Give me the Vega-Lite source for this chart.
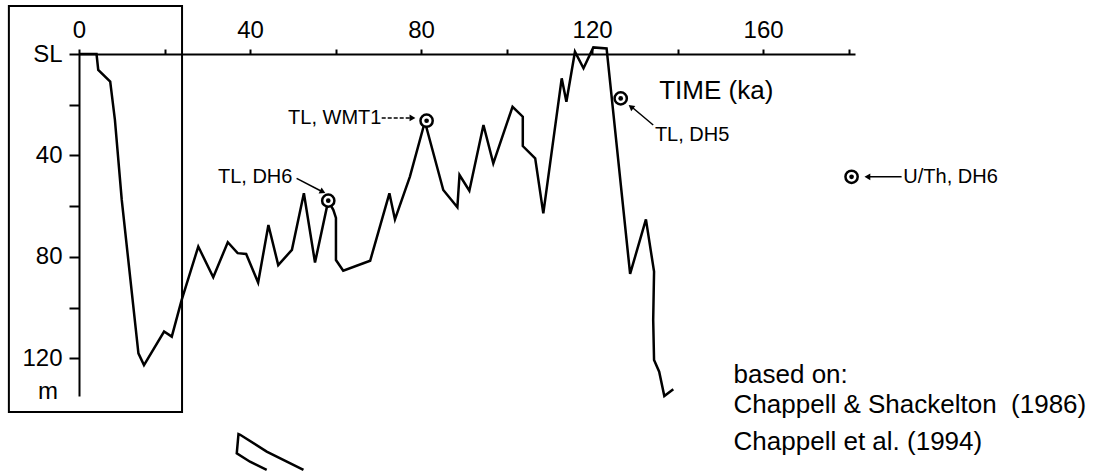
{
  "$schema": "https://vega.github.io/schema/vega-lite/v6.json",
  "width": 776,
  "height": 342,
  "autosize": {"type": "none"},
  "padding": {"left": 79, "top": 54, "right": 239, "bottom": 75},
  "background": "white",
  "view": {"stroke": null},
  "config": {"font": "Liberation Sans"},
  "layer": [
    {
      "data": {"values": [
        {"i": 1, "t": 0, "m": 0}, {"i": 2, "t": 4.1, "m": 0}, {"i": 3, "t": 4.5, "m": 6.3},
        {"i": 4, "t": 7.3, "m": 10.9}, {"i": 5, "t": 8.4, "m": 26}, {"i": 6, "t": 10, "m": 57.5},
        {"i": 7, "t": 13.9, "m": 118}, {"i": 8, "t": 15.2, "m": 122.6}, {"i": 9, "t": 19.9, "m": 109.4},
        {"i": 10, "t": 21.7, "m": 111.4}, {"i": 11, "t": 24, "m": 97}, {"i": 12, "t": 27.9, "m": 75.9},
        {"i": 13, "t": 31.4, "m": 88}, {"i": 14, "t": 34.8, "m": 74.2}, {"i": 15, "t": 37.1, "m": 78.5},
        {"i": 16, "t": 39.1, "m": 78.8}, {"i": 17, "t": 41.9, "m": 90.1}, {"i": 18, "t": 44.3, "m": 67.4},
        {"i": 19, "t": 46.6, "m": 83.2}, {"i": 20, "t": 49.8, "m": 77.2}, {"i": 21, "t": 52.6, "m": 54.9},
        {"i": 22, "t": 55.2, "m": 82.2}, {"i": 23, "t": 58.3, "m": 57.8}, {"i": 24, "t": 59.5, "m": 61.5},
        {"i": 25, "t": 60.1, "m": 64.6}, {"i": 26, "t": 60.1, "m": 81.2}, {"i": 27, "t": 61.8, "m": 85.4},
        {"i": 28, "t": 68.1, "m": 81.5}, {"i": 29, "t": 72.6, "m": 54.9}, {"i": 30, "t": 73.9, "m": 65.2},
        {"i": 31, "t": 77.4, "m": 48.3}, {"i": 32, "t": 80.9, "m": 26.7}, {"i": 33, "t": 85.2, "m": 53.6},
        {"i": 34, "t": 88.5, "m": 60.4}, {"i": 35, "t": 89, "m": 47.7}, {"i": 36, "t": 91.3, "m": 53.9},
        {"i": 37, "t": 94.6, "m": 28}, {"i": 38, "t": 96.9, "m": 43.1}, {"i": 39, "t": 101.4, "m": 20.8},
        {"i": 40, "t": 103.8, "m": 24.7}, {"i": 41, "t": 103.8, "m": 36.3}, {"i": 42, "t": 106.7, "m": 41.1},
        {"i": 43, "t": 108.6, "m": 62.8}, {"i": 44, "t": 112.9, "m": 9.6}, {"i": 45, "t": 114, "m": 18.8},
        {"i": 46, "t": 116, "m": -0.9}, {"i": 47, "t": 118, "m": 5.6}, {"i": 48, "t": 120.3, "m": -2.6},
        {"i": 49, "t": 123.4, "m": -2.2}, {"i": 50, "t": 128.9, "m": 86.7}, {"i": 51, "t": 132.6, "m": 65.2},
        {"i": 52, "t": 134.5, "m": 85.8}, {"i": 53, "t": 134.3, "m": 104.8}, {"i": 54, "t": 134.5, "m": 120.6},
        {"i": 55, "t": 135.7, "m": 125.2}, {"i": 56, "t": 136.9, "m": 134.8}, {"i": 57, "t": 139, "m": 132.1}
      ]},
      "mark": {"type": "line", "color": "black", "strokeWidth": 2.5, "clip": false},
      "encoding": {
        "x": {"field": "t", "type": "quantitative",
          "scale": {"domain": [0, 181.5], "nice": false, "zero": false},
          "axis": {"orient": "top", "title": null, "grid": false,
            "values": [0, 20, 40, 60, 80, 100, 120, 140, 160, 180],
            "labelExpr": "datum.value % 40 == 0 ? datum.label : ''",
            "tickSize": 5, "tickWidth": 2, "tickColor": "black",
            "domainWidth": 2, "domainColor": "black",
            "labelFont": "Liberation Sans", "labelFontSize": 24, "labelColor": "black",
            "labelPadding": 7, "labelFlush": false, "labelOverlap": false}},
        "y": {"field": "m", "type": "quantitative",
          "scale": {"domain": [0, 134.8], "nice": false, "zero": false, "reverse": true},
          "axis": {"orient": "left", "title": null, "grid": false,
            "values": [0, 20, 40, 60, 80, 100, 120],
            "labelExpr": "datum.value == 0 ? 'SL' : (datum.value % 40 == 0 ? datum.label : '')",
            "tickSize": 10, "tickWidth": 2, "tickColor": "black",
            "domainWidth": 2, "domainColor": "black",
            "labelFont": "Liberation Sans", "labelFontSize": 24, "labelColor": "black",
            "labelPadding": 7, "labelFlush": false, "labelOverlap": false}},
        "order": {"field": "i", "type": "quantitative"}
      }
    },
    {
      "data": {"values": [{"t": -16.4, "t2": 24.1, "m": -18.9, "m2": 141.1}]},
      "mark": {"type": "rect", "fill": null, "fillOpacity": 0, "stroke": "black", "strokeWidth": 2, "clip": false},
      "encoding": {
        "x": {"field": "t", "type": "quantitative"},
        "x2": {"field": "t2"},
        "y": {"field": "m", "type": "quantitative"},
        "y2": {"field": "m2"}
      }
    },
    {
      "data": {"values": [
        {"i": 1, "t": 43.9, "m": 163.9}, {"i": 2, "t": 40, "m": 160.7}, {"i": 3, "t": 36.9, "m": 157.4},
        {"i": 4, "t": 37.3, "m": 149.8}, {"i": 5, "t": 37.7, "m": 150.1}, {"i": 6, "t": 43.9, "m": 156.7},
        {"i": 7, "t": 52.5, "m": 163.9}
      ]},
      "mark": {"type": "line", "color": "black", "strokeWidth": 2.5, "clip": false},
      "encoding": {
        "x": {"field": "t", "type": "quantitative"},
        "y": {"field": "m", "type": "quantitative"},
        "order": {"field": "i", "type": "quantitative"}
      }
    },
    {
      "data": {"values": [
        {"t": 50.9, "m": 49, "t2": 56.6, "m2": 54.0},
        {"t": 134.3, "m": 28, "t2": 129.5, "m2": 21.2},
        {"t": 192.4, "m": 48.4, "t2": 185, "m2": 48.4}
      ]},
      "mark": {"type": "rule", "color": "black", "strokeWidth": 1.5, "clip": false},
      "encoding": {
        "x": {"field": "t", "type": "quantitative"},
        "x2": {"field": "t2"},
        "y": {"field": "m", "type": "quantitative"},
        "y2": {"field": "m2"}
      }
    },
    {
      "data": {"values": [{"t": 70.8, "m": 25.2, "t2": 77.5, "m2": 25.2}]},
      "mark": {"type": "rule", "color": "black", "strokeWidth": 1.5, "strokeDash": [4, 2], "clip": false},
      "encoding": {
        "x": {"field": "t", "type": "quantitative"},
        "x2": {"field": "t2"},
        "y": {"field": "m", "type": "quantitative"},
        "y2": {"field": "m2"}
      }
    },
    {
      "data": {"values": [
        {"t": 78.0, "m": 25.2, "dir": 0},
        {"t": 57.0, "m": 54.3, "dir": 27},
        {"t": 129.1, "m": 20.8, "dir": 218},
        {"t": 184.4, "m": 48.4, "dir": 180}
      ]},
      "mark": {"type": "point", "shape": "triangle-right", "filled": true, "color": "black", "size": 45, "opacity": 1, "clip": false},
      "encoding": {
        "x": {"field": "t", "type": "quantitative"},
        "y": {"field": "m", "type": "quantitative"},
        "angle": {"field": "dir", "type": "quantitative", "scale": null}
      }
    },
    {
      "data": {"values": [
        {"t": 58.3, "m": 57.8}, {"t": 81.3, "m": 26.3}, {"t": 126.7, "m": 17.5}, {"t": 180.7, "m": 48.4}
      ]},
      "mark": {"type": "point", "shape": "circle", "filled": false, "fill": "white", "fillOpacity": 1, "stroke": "black", "strokeWidth": 2.5, "size": 150, "opacity": 1, "clip": false},
      "encoding": {
        "x": {"field": "t", "type": "quantitative"},
        "y": {"field": "m", "type": "quantitative"}
      }
    },
    {
      "data": {"values": [
        {"t": 58.3, "m": 57.8}, {"t": 81.3, "m": 26.3}, {"t": 126.7, "m": 17.5}, {"t": 180.7, "m": 48.4}
      ]},
      "mark": {"type": "point", "shape": "circle", "filled": true, "color": "black", "size": 22, "opacity": 1, "clip": false},
      "encoding": {
        "x": {"field": "t", "type": "quantitative"},
        "y": {"field": "m", "type": "quantitative"}
      }
    },
    {
      "data": {"values": [
        {"t": 48.9, "m": 25.2, "label": "TL, WMT1"},
        {"t": 32.5, "m": 48.4, "label": "TL, DH6"},
        {"t": 134.7, "m": 31.9, "label": "TL, DH5"},
        {"t": 192.8, "m": 48.4, "label": "U/Th, DH6"}
      ]},
      "mark": {"type": "text", "align": "left", "baseline": "middle", "font": "Liberation Sans", "fontSize": 20, "color": "black", "clip": false},
      "encoding": {
        "x": {"field": "t", "type": "quantitative"},
        "y": {"field": "m", "type": "quantitative"},
        "text": {"field": "label"}
      }
    },
    {
      "data": {"values": [{"t": 135.7, "m": 14.6, "label": "TIME (ka)"}]},
      "mark": {"type": "text", "align": "left", "baseline": "middle", "font": "Liberation Sans", "fontSize": 26, "color": "black", "clip": false},
      "encoding": {
        "x": {"field": "t", "type": "quantitative"},
        "y": {"field": "m", "type": "quantitative"},
        "text": {"field": "label"}
      }
    },
    {
      "data": {"values": [{"t": -7.25, "m": 133.1, "label": "m"}]},
      "mark": {"type": "text", "align": "center", "baseline": "middle", "font": "Liberation Sans", "fontSize": 24, "color": "black", "clip": false},
      "encoding": {
        "x": {"field": "t", "type": "quantitative"},
        "y": {"field": "m", "type": "quantitative"},
        "text": {"field": "label"}
      }
    },
    {
      "data": {"values": [
        {"t": 153.1, "m": 129.7, "label": "based on:"},
        {"t": 153.1, "m": 141.5, "label": "Chappell & Shackelton\u00a0\u00a0(1986)"},
        {"t": 153.1, "m": 156.1, "label": "Chappell et al. (1994)"}
      ]},
      "mark": {"type": "text", "align": "left", "baseline": "alphabetic", "font": "Liberation Sans", "fontSize": 26, "color": "black", "clip": false},
      "encoding": {
        "x": {"field": "t", "type": "quantitative"},
        "y": {"field": "m", "type": "quantitative"},
        "text": {"field": "label"}
      }
    }
  ]
}
